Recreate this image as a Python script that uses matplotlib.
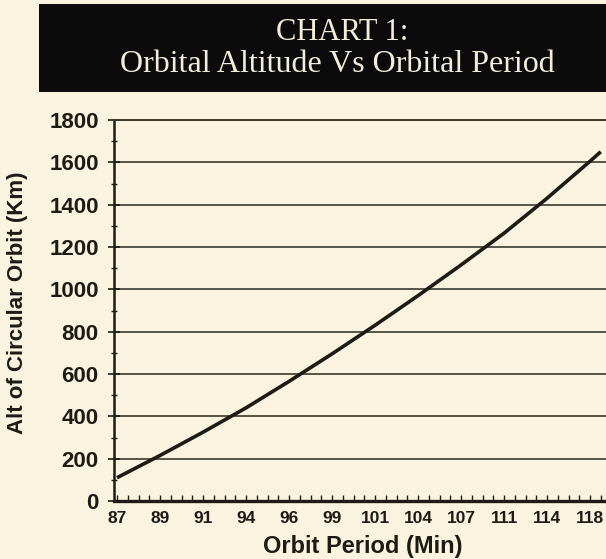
import matplotlib
matplotlib.use("Agg")
import matplotlib.pyplot as plt
from matplotlib.patches import Rectangle
from matplotlib.ticker import FixedLocator, MultipleLocator

# ---------------- data ----------------
period_labels = ["87", "89", "91", "94", "96", "99", "101", "104", "107", "111", "114", "118"]
label_index = [0, 4, 8, 12, 16, 20, 24, 28, 32, 36, 40, 44]
n_categories = 46
point_index = [0, 4, 8, 12, 16, 20, 24, 28, 32, 36, 40, 44, 45]
altitude_km = [110, 215, 325, 440, 565, 695, 830, 970, 1115, 1265, 1430, 1605, 1650]
y_ticks = [0, 200, 400, 600, 800, 1000, 1200, 1400, 1600, 1800]

title_line1 = "CHART 1:"
title_line2 = "Orbital Altitude Vs Orbital Period"
x_title = "Orbit Period (Min)"
y_title = "Alt of Circular Orbit (Km)"

# ---------------- style ----------------
W, H = 606, 559
bg = "#f9f3df"
ink = "#1c1c14"
grid_c = "#3a3a2c"

fig = plt.figure(figsize=(W / 100, H / 100), dpi=100)
fig.patch.set_facecolor(bg)


def fx(x):
    return x / W


def fy(y):
    return 1 - y / H


# title banner
fig.add_artist(Rectangle((fx(39), fy(92)), fx(606) - fx(39) + 0.01, fy(4) - fy(92),
                         transform=fig.transFigure, facecolor="#0b0b0b", edgecolor="none"))
fig.text(fx(342), fy(32), title_line1, ha="center", va="center", color="#f3eedc",
         fontsize=22, family="Liberation Serif")
fig.text(fx(337), fy(65), title_line2, ha="center", va="center", color="#f3eedc",
         fontsize=23, family="Liberation Serif")

# axes: left spine at x=114, bottom at y=501, top (1800) at y=120
left, right, top, bottom = 114, 620, 120, 501
ax = fig.add_axes([fx(left), fy(bottom), fx(right) - fx(left), fy(top) - fy(bottom)])
ax.set_facecolor(bg)
x0_px, step_px = 117, 10.75
ax.set_xlim((left - x0_px) / step_px, (right - x0_px) / step_px)
ax.set_ylim(0, 1800)

ax.plot(point_index, altitude_km, color=ink, lw=2.6, solid_capstyle="butt", zorder=3,
        clip_on=False)

ax.spines["right"].set_visible(False)
ax.spines["top"].set_color(grid_c)
ax.spines["top"].set_linewidth(1.4)
ax.spines["left"].set_color(ink)
ax.spines["left"].set_linewidth(1.8)
ax.spines["bottom"].set_color(ink)
ax.spines["bottom"].set_linewidth(2.4)

ax.yaxis.set_major_locator(FixedLocator(y_ticks))
ax.yaxis.set_minor_locator(MultipleLocator(100))
ax.set_yticklabels([str(v) for v in y_ticks])
ax.tick_params(axis="y", which="major", direction="inout", length=8, width=1.2,
               color=ink, pad=7, labelsize=16, labelcolor=ink)
ax.tick_params(axis="y", which="minor", direction="inout", length=4, width=1.0, color=ink)
for lab in ax.get_yticklabels():
    lab.set_fontweight("bold")
    lab.set_family("Liberation Sans")
ax.yaxis.grid(True, which="major", color=grid_c, lw=1.2)

ax.xaxis.set_major_locator(FixedLocator(label_index))
ax.xaxis.set_minor_locator(FixedLocator(list(range(n_categories))))
ax.set_xticklabels(period_labels)
ax.tick_params(axis="x", which="both", direction="in", length=4, width=1.0, color=ink,
               pad=7, labelsize=12.5, labelcolor=ink)
for lab in ax.get_xticklabels():
    lab.set_fontweight("bold")
    lab.set_family("Liberation Sans")

fig.text(fx(363), fy(546), x_title, ha="center", va="center", color=ink,
         fontsize=17, fontweight="bold", family="Liberation Sans")
fig.text(fx(18), fy(303), y_title, ha="center", va="center", rotation=90, color=ink,
         fontsize=16, fontweight="bold", family="Liberation Sans")

fig.savefig("out.png", dpi=100, facecolor=bg)
